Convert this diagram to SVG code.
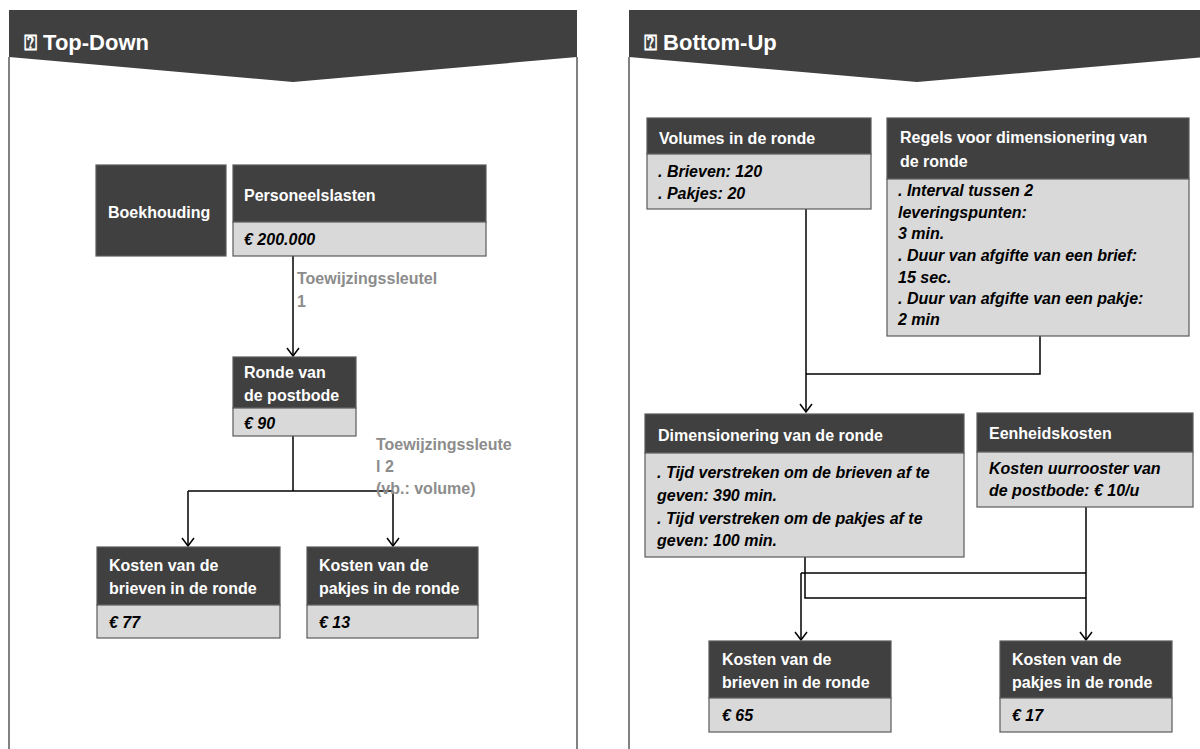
<svg xmlns="http://www.w3.org/2000/svg" width="1200" height="749" viewBox="0 0 1200 749">
<defs>
<style>
.hd{fill:#404040;stroke:#5a5a5a;stroke-width:1.2}
.bd{fill:#d9d9d9;stroke:#5a5a5a;stroke-width:1.2}
.wt{font-family:"Liberation Sans","DejaVu Sans",sans-serif;font-weight:bold;font-size:16px;fill:#ffffff}
.it{font-family:"Liberation Sans","DejaVu Sans",sans-serif;font-weight:bold;font-style:italic;font-size:16px;fill:#000000}
.gl{font-family:"Liberation Sans","DejaVu Sans",sans-serif;font-weight:bold;font-size:16px;fill:#8c8c8c}
.ttl{font-family:"Liberation Sans","DejaVu Sans",sans-serif;font-weight:bold;font-size:22px;fill:#ffffff}
.pb{stroke:#595959;stroke-width:1.5;fill:none}
.cn{stroke:#000000;stroke-width:1.5;fill:none}
</style>
<marker id="arr" markerWidth="14" markerHeight="14" refX="9" refY="7" orient="auto" markerUnits="userSpaceOnUse">
<path d="M1,1 L9,7 L1,13" fill="none" stroke="#000" stroke-width="1.5"/>
</marker>
</defs>
<rect width="1200" height="749" fill="#ffffff"/>

<g id="panel-left">
<polygon points="9,10 577,10 577,57 293,82 9,57" fill="#404040"/>
<line class="pb" x1="9" y1="57" x2="9" y2="749"/>
<line class="pb" x1="577" y1="57" x2="577" y2="749"/>
<text class="ttl" x="24" y="50">⍰ Top-Down</text>
</g>

<g id="panel-right">
<polygon points="629,10 1205,10 1205,57 917,82 629,57" fill="#404040"/>
<line class="pb" x1="629" y1="57" x2="629" y2="749"/>
<text class="ttl" x="644" y="50">⍰ Bottom-Up</text>
</g>

<g id="connectors">
<line class="cn" x1="293" y1="256" x2="293" y2="356" marker-end="url(#arr)"/>
<polyline class="cn" points="293,436 293,491"/>
<polyline class="cn" points="188,491 393,491"/>
<line class="cn" x1="188" y1="491" x2="188" y2="546" marker-end="url(#arr)"/>
<line class="cn" x1="393" y1="491" x2="393" y2="546" marker-end="url(#arr)"/>
<text class="gl" x="297" y="284">Toewijzingssleutel</text>
<text class="gl" x="297" y="307">1</text>
<text class="gl" x="376" y="450">Toewijzingssleute</text>
<text class="gl" x="376" y="472">l 2</text>
<text class="gl" x="376" y="494">(vb.: volume)</text>

<line class="cn" x1="806" y1="209" x2="806" y2="412" marker-end="url(#arr)"/>
<polyline class="cn" points="1040,336 1040,374 806,374"/>
<polyline class="cn" points="805,557 805,598 1086,598"/>
<polyline class="cn" points="1086,573 801,573"/>
<line class="cn" x1="801" y1="573" x2="801" y2="640" marker-end="url(#arr)"/>
<line class="cn" x1="1086" y1="507" x2="1086" y2="640" marker-end="url(#arr)"/>
</g>

<g id="boekhouding">
<rect class="hd" x="96" y="165" width="130" height="91"/>
<text class="wt" x="108" y="218">Boekhouding</text>
</g>

<g id="personeelslasten">
<rect class="hd" x="233" y="165" width="253" height="57"/>
<rect class="bd" x="233" y="222" width="253" height="34"/>
<text class="wt" x="244" y="201">Personeelslasten</text>
<text class="it" x="244" y="245">€ 200.000</text>
</g>

<g id="ronde">
<rect class="hd" x="233" y="357" width="123" height="51"/>
<rect class="bd" x="233" y="408" width="123" height="28"/>
<text class="wt" x="244" y="378">Ronde van</text>
<text class="wt" x="244" y="401">de postbode</text>
<text class="it" x="244" y="429">€ 90</text>
</g>

<g id="kosten-brieven-td">
<rect class="hd" x="97" y="547" width="183" height="58"/>
<rect class="bd" x="97" y="605" width="183" height="33"/>
<text class="wt" x="109" y="571">Kosten van de</text>
<text class="wt" x="109" y="594">brieven in de ronde</text>
<text class="it" x="109" y="628">€ 77</text>
</g>

<g id="kosten-pakjes-td">
<rect class="hd" x="307" y="547" width="171" height="58"/>
<rect class="bd" x="307" y="605" width="171" height="33"/>
<text class="wt" x="319" y="571">Kosten van de</text>
<text class="wt" x="319" y="594">pakjes in de ronde</text>
<text class="it" x="319" y="628">€ 13</text>
</g>

<g id="volumes">
<rect class="hd" x="647" y="118" width="224" height="36"/>
<rect class="bd" x="647" y="154" width="224" height="55"/>
<text class="wt" x="659" y="144">Volumes in de ronde</text>
<text class="it" x="658" y="177">. Brieven: 120</text>
<text class="it" x="658" y="199">. Pakjes: 20</text>
</g>

<g id="regels">
<rect class="hd" x="887" y="118" width="302" height="61"/>
<rect class="bd" x="887" y="179" width="302" height="157"/>
<text class="wt" x="900" y="143">Regels voor dimensionering van</text>
<text class="wt" x="900" y="167">de ronde</text>
<text class="it" x="898" y="196">. Interval tussen 2</text>
<text class="it" x="898" y="218">leveringspunten:</text>
<text class="it" x="898" y="239">3 min.</text>
<text class="it" x="898" y="261">. Duur van afgifte van een brief:</text>
<text class="it" x="898" y="283">15 sec.</text>
<text class="it" x="898" y="304">. Duur van afgifte van een pakje:</text>
<text class="it" x="898" y="325">2 min</text>
</g>

<g id="dimensionering">
<rect class="hd" x="645" y="414" width="319" height="39"/>
<rect class="bd" x="645" y="453" width="319" height="104"/>
<text class="wt" x="658" y="441">Dimensionering van de ronde</text>
<text class="it" x="657" y="478">. Tijd verstreken om de brieven af te</text>
<text class="it" x="657" y="501">geven: 390 min.</text>
<text class="it" x="657" y="524">. Tijd verstreken om de pakjes af te</text>
<text class="it" x="657" y="546">geven: 100 min.</text>
</g>

<g id="eenheidskosten">
<rect class="hd" x="977" y="413" width="216" height="39"/>
<rect class="bd" x="977" y="452" width="216" height="55"/>
<text class="wt" x="989" y="439">Eenheidskosten</text>
<text class="it" x="989" y="474">Kosten uurrooster van</text>
<text class="it" x="989" y="496">de postbode: € 10/u</text>
</g>

<g id="kosten-brieven-bu">
<rect class="hd" x="709" y="641" width="182" height="57"/>
<rect class="bd" x="709" y="698" width="182" height="34"/>
<text class="wt" x="722" y="665">Kosten van de</text>
<text class="wt" x="722" y="688">brieven in de ronde</text>
<text class="it" x="722" y="721">€ 65</text>
</g>

<g id="kosten-pakjes-bu">
<rect class="hd" x="1000" y="641" width="172" height="57"/>
<rect class="bd" x="1000" y="698" width="172" height="34"/>
<text class="wt" x="1012" y="665">Kosten van de</text>
<text class="wt" x="1012" y="688">pakjes in de ronde</text>
<text class="it" x="1012" y="721">€ 17</text>
</g>
</svg>
